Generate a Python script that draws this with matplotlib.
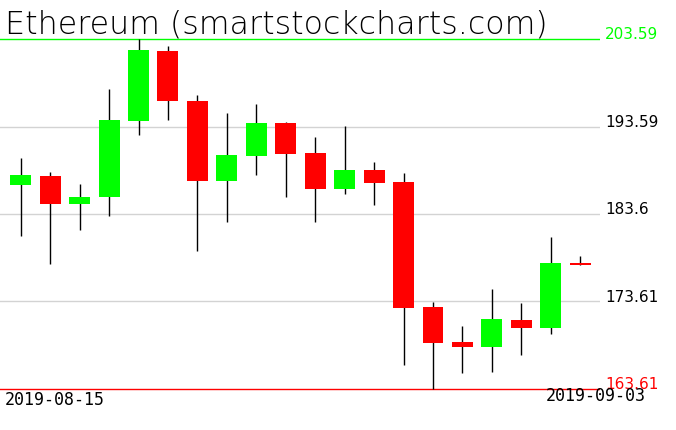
import matplotlib
matplotlib.use("Agg")
import matplotlib.pyplot as plt
from matplotlib.transforms import blended_transform_factory

dates = ["2019-08-15", "2019-08-16", "2019-08-17", "2019-08-18", "2019-08-19",
         "2019-08-20", "2019-08-21", "2019-08-22", "2019-08-23", "2019-08-24",
         "2019-08-25", "2019-08-26", "2019-08-27", "2019-08-28", "2019-08-29",
         "2019-08-30", "2019-08-31", "2019-09-01", "2019-09-02", "2019-09-03"]
opens = [186.95, 187.94, 184.78, 185.58, 194.26, 202.22, 196.51, 187.40, 190.26, 193.99,
         190.57, 186.49, 188.63, 187.25, 172.98, 168.98, 168.44, 171.49, 170.61, 178.00]
highs = [190.00, 188.40, 187.03, 197.88, 203.59, 202.82, 197.19, 195.14, 196.16, 194.11,
         192.40, 193.65, 189.54, 188.28, 173.55, 170.80, 175.03, 173.43, 180.97, 178.80]
lows = [181.12, 177.92, 181.81, 183.34, 192.66, 194.37, 179.41, 182.72, 188.09, 185.58,
        182.72, 185.92, 184.66, 166.38, 163.61, 165.47, 165.58, 167.53, 169.93, 177.81]
closes = [188.05, 184.78, 185.54, 194.34, 202.33, 196.54, 187.40, 190.34, 193.99, 190.49,
          186.49, 188.63, 187.17, 172.90, 168.90, 168.44, 171.64, 170.61, 178.04, 177.81]
grid_levels = [193.59, 183.6, 173.61]
top_level = 203.59
bottom_level = 163.61
title = "Ethereum (smartstockcharts.com)"

W, H = 676, 431
fig = plt.figure(figsize=(W / 100, H / 100), dpi=100)
ax = fig.add_axes([0, 0, 600 / W, 1])
ax.set_axis_off()

px_per_unit = 350 / (top_level - bottom_level)
ax.set_ylim(bottom_level - 41 / px_per_unit, top_level + 40 / px_per_unit)
step = 29.45
ax.set_xlim(-20.7 / step, (600 - 20.7) / step)

GREEN = "#00ff00"
RED = "#ff0000"

for lv in grid_levels:
    ax.axhline(lv, color="#d3d3d3", lw=1.0, zorder=0)
ax.axhline(top_level, color=GREEN, lw=1.0, zorder=0)
ax.axhline(bottom_level, color=RED, lw=1.0, zorder=0)

xs = list(range(len(dates)))
ax.vlines(xs, lows, highs, color="black", lw=1.0, zorder=1)
bottoms = [min(o, c) for o, c in zip(opens, closes)]
heights = [max(abs(c - o), 0.2) for o, c in zip(opens, closes)]
colors = [GREEN if c >= o else RED for o, c in zip(opens, closes)]
ax.bar(xs, heights, bottom=bottoms, width=0.71, color=colors, zorder=2, linewidth=0)

tr = blended_transform_factory(fig.transFigure, ax.transData)
label_x = 605 / W
labels = [(top_level, "203.59", GREEN)] + [(lv, f"{lv:g}", "black") for lv in grid_levels] + \
         [(bottom_level, "163.61", RED)]
for lv, txt, col in labels:
    ax.text(label_x, lv + 5 / px_per_unit, txt, transform=tr, color=col, fontsize=11,
            va="center", ha="left", clip_on=False)

fig.text(5 / W, 1 - 25 / H, title, fontsize=22.8, va="center", ha="left", color="black",
         fontweight="light")
fig.text(5 / W, 1 - 400 / H, dates[0], fontsize=12, va="center", ha="left",
         family="DejaVu Sans Mono")
fig.text(646 / W, 1 - 396 / H, dates[-1], fontsize=12, va="center", ha="right",
         family="DejaVu Sans Mono")

fig.savefig("out.png", dpi=100)
